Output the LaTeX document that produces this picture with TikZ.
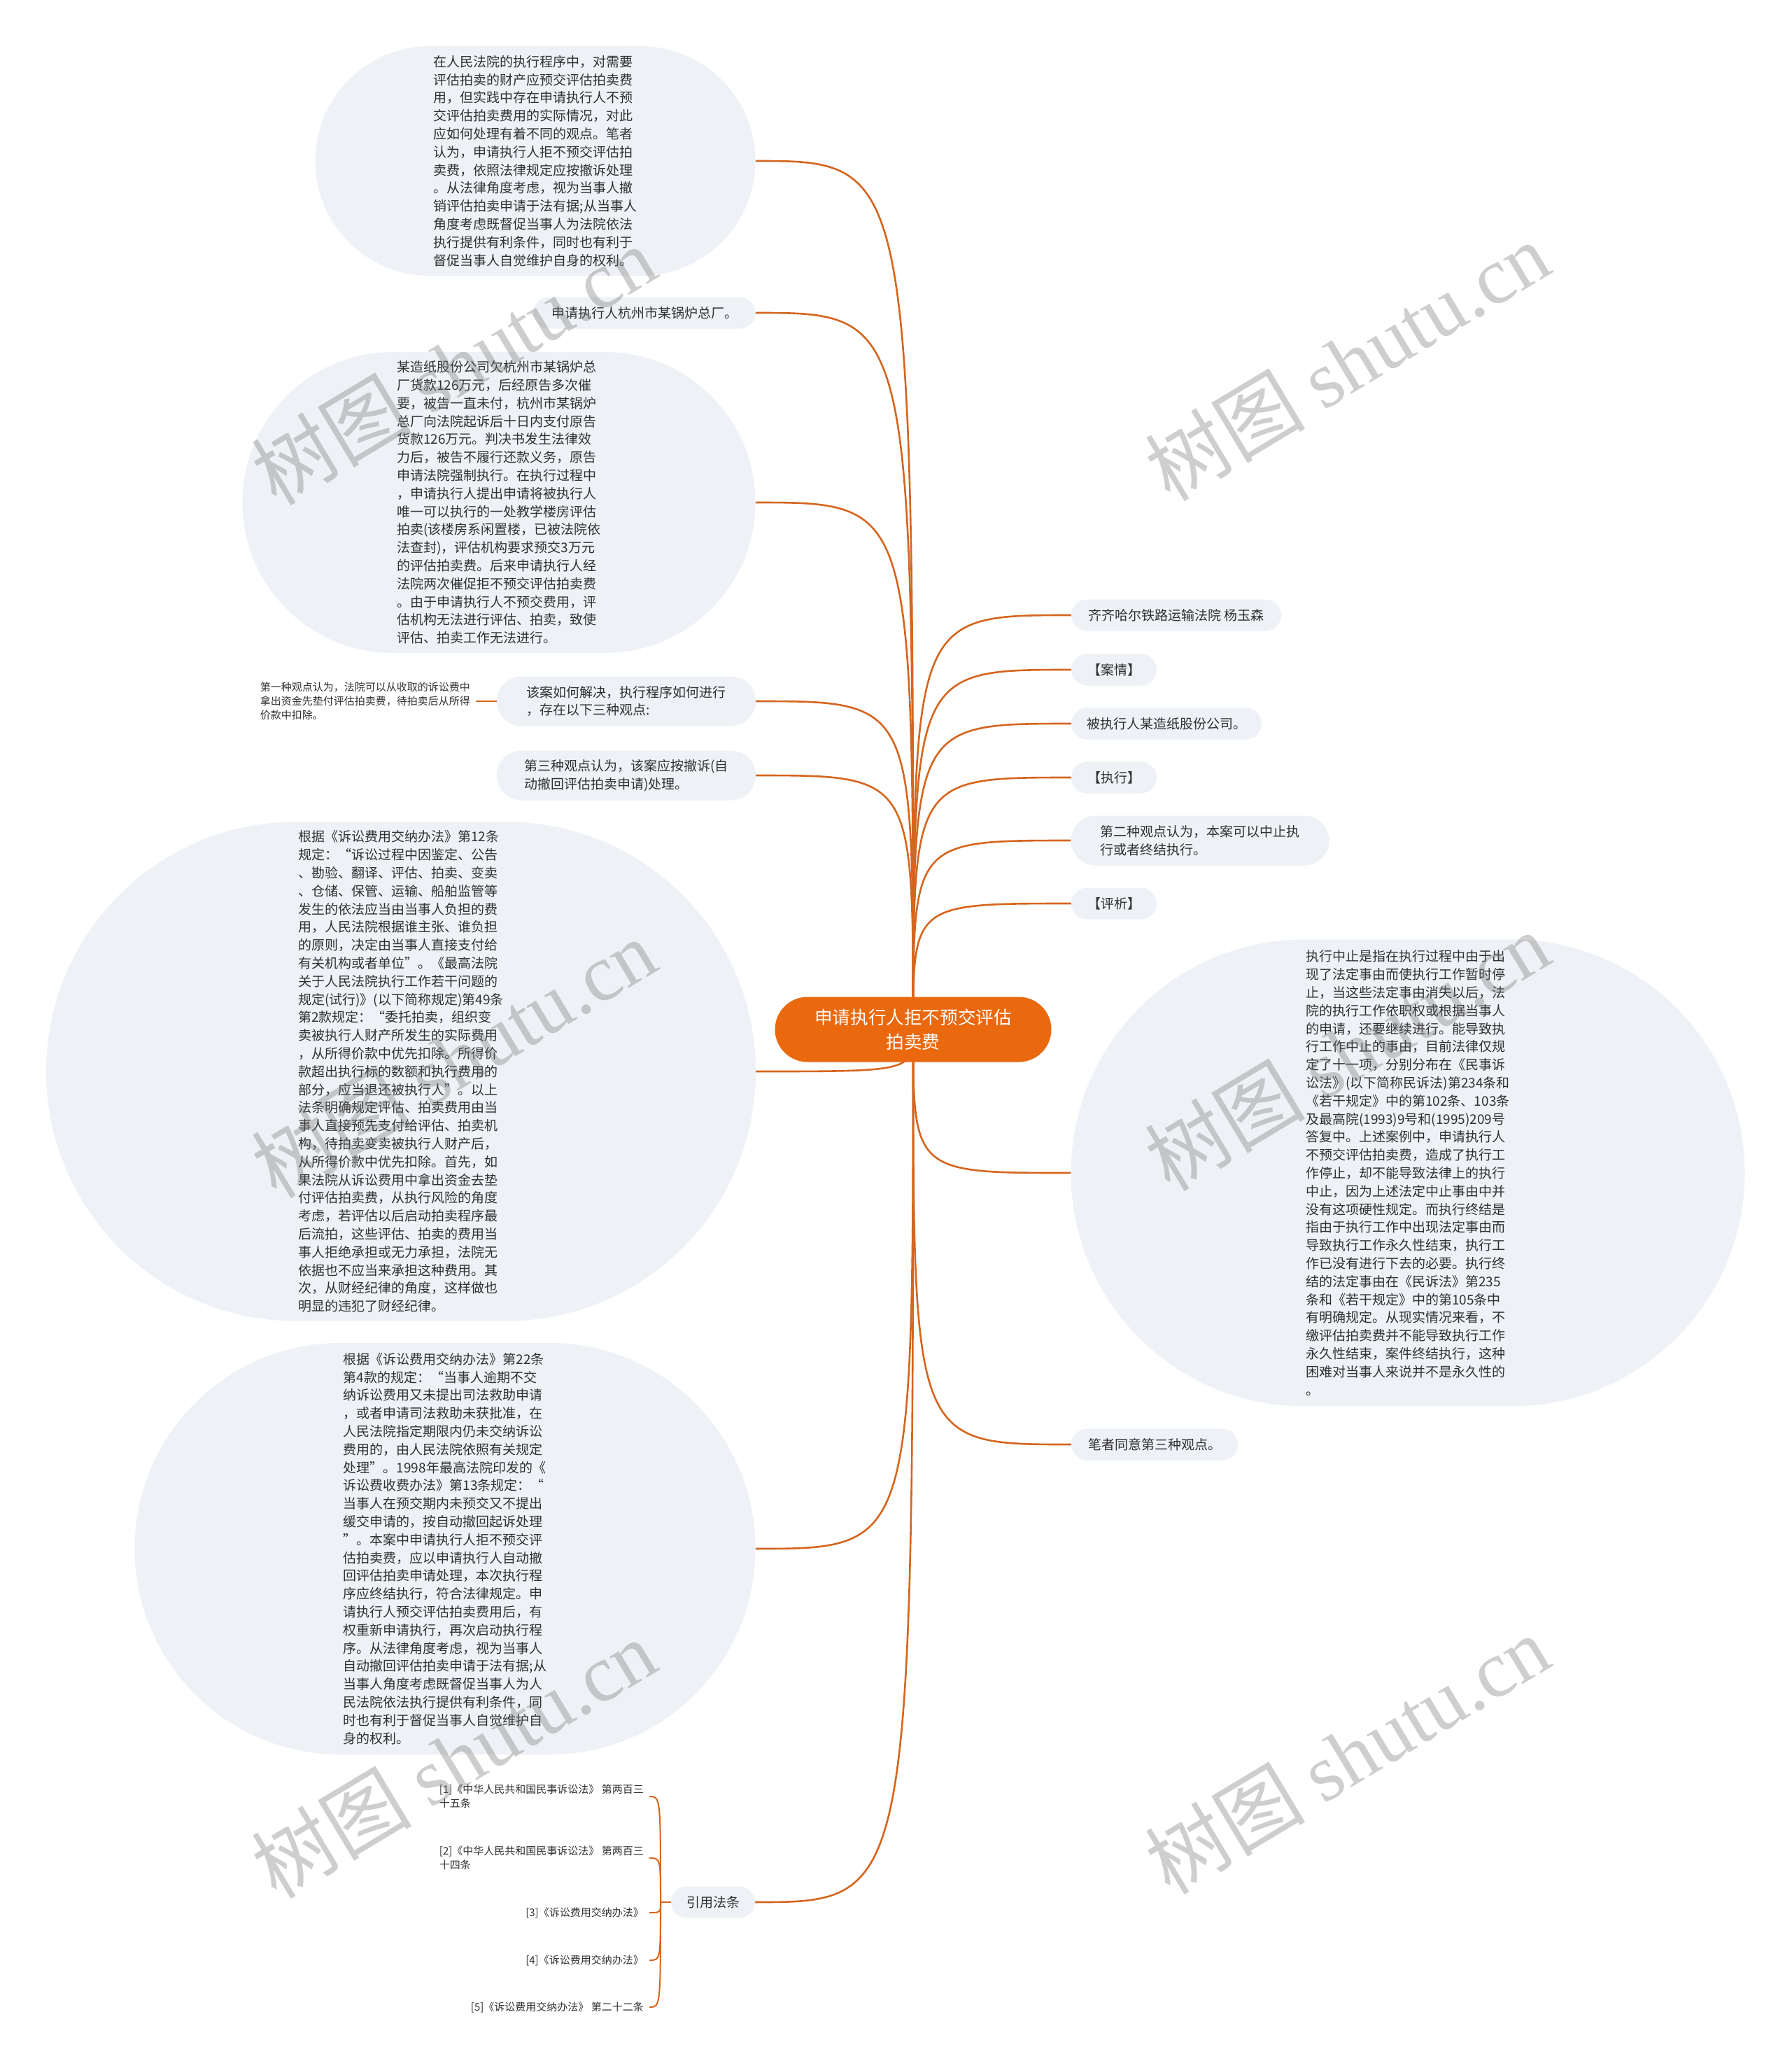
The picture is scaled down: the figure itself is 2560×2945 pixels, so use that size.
\documentclass[tikz,border=0pt]{standalone}
\usepackage{fontspec}
\setmainfont{Noto Sans CJK SC}
\newfontfamily\wmlatin{Liberation Serif}
\usetikzlibrary{shapes.misc}
\usetikzlibrary{backgrounds}
\definecolor{rootfill}{RGB}{234,104,14}
\definecolor{linkcol}{RGB}{214,101,30}
\definecolor{bubblefill}{RGB}{238,241,245}
\definecolor{inktext}{RGB}{48,48,48}
\tikzset{
  bubble/.style={rounded rectangle, fill=bubblefill, text=inktext, inner xsep=0pt, inner ysep=0pt, align=left, font=\fontsize{19pt}{25.8pt}\selectfont},
  leaf/.style={bubble, minimum height=45pt},
  leaftwo/.style={bubble, minimum height=71pt},
  smalltext/.style={text=inktext, align=left, inner xsep=8pt, inner ysep=2pt, font=\fontsize{15pt}{20pt}\selectfont},
  link/.style={draw=linkcol, line width=2.6pt, to path={.. controls (\tikztostart |- \tikztotarget) and (\tikztostart |- \tikztotarget) .. (\tikztotarget)}},
  watermark/.style={rotate=31, text=black!55, opacity=0.35, font=\fontsize{115pt}{115pt}\selectfont}
}
\begin{document}
\begin{tikzpicture}[x=1pt,y=-1pt]
\useasboundingbox (0,0) rectangle (2560,2945);

\node[rounded rectangle, fill=rootfill, text=white, minimum width=395pt, minimum height=93pt, inner xsep=0pt, align=center, font=\fontsize{25.6pt}{35pt}\selectfont] (root) at (1305,1471) {申请执行人拒不预交评估\\拍卖费};

\node[leaf, minimum width=300pt] (court) at (1681,879) {齐齐哈尔铁路运输法院 杨玉森};
\node[leaf, minimum width=122pt] (facts) at (1592,957) {【案情】};
\node[leaf, minimum width=272pt] (debtor) at (1667,1034) {被执行人某造纸股份公司。};
\node[leaf, minimum width=122pt] (enforce) at (1592,1111) {【执行】};
\node[leaftwo, minimum width=369pt] (viewtwo) at (1715,1201) {第二种观点认为，本案可以中止执\\行或者终结执行。};
\node[leaf, minimum width=122pt] (analysis) at (1592,1291) {【评析】};
\node[bubble, minimum width=963pt, minimum height=667pt] (suspend) at (2012,1676) {执行中止是指在执行过程中由于出\\现了法定事由而使执行工作暂时停\\止，当这些法定事由消失以后，法\\院的执行工作依职权或根据当事人\\的申请，还要继续进行。能导致执\\行工作中止的事由，目前法律仅规\\定了十一项，分别分布在《民事诉\\讼法》(以下简称民诉法)第234条和\\《若干规定》中的第102条、103条\\及最高院(1993)9号和(1995)209号\\答复中。上述案例中，申请执行人\\不预交评估拍卖费，造成了执行工\\作停止，却不能导致法律上的执行\\中止，因为上述法定中止事由中并\\没有这项硬性规定。而执行终结是\\指由于执行工作中出现法定事由而\\导致执行工作永久性结束，执行工\\作已没有进行下去的必要。执行终\\结的法定事由在《民诉法》第235\\条和《若干规定》中的第105条中\\有明确规定。从现实情况来看，不\\缴评估拍卖费并不能导致执行工作\\永久性结束，案件终结执行，这种\\困难对当事人来说并不是永久性的\\。};
\node[leaf, minimum width=238pt] (agree) at (1650,2064) {笔者同意第三种观点。};

\node[bubble, minimum width=629pt, minimum height=328pt] (intro) at (765,230) {在人民法院的执行程序中，对需要\\评估拍卖的财产应预交评估拍卖费\\用，但实践中存在申请执行人不预\\交评估拍卖费用的实际情况，对此\\应如何处理有着不同的观点。笔者\\认为，申请执行人拒不预交评估拍\\卖费，依照法律规定应按撤诉处理\\。从法律角度考虑，视为当事人撤\\销评估拍卖申请于法有据;从当事人\\角度考虑既督促当事人为法院依法\\执行提供有利条件，同时也有利于\\督促当事人自觉维护自身的权利。};
\node[leaf, minimum width=317pt] (creditor) at (921,447) {申请执行人杭州市某锅炉总厂。};
\node[bubble, minimum width=733pt, minimum height=430pt] (case) at (713,718) {某造纸股份公司欠杭州市某锅炉总\\厂货款126万元，后经原告多次催\\要，被告一直未付，杭州市某锅炉\\总厂向法院起诉后十日内支付原告\\货款126万元。判决书发生法律效\\力后，被告不履行还款义务，原告\\申请法院强制执行。在执行过程中\\，申请执行人提出申请将被执行人\\唯一可以执行的一处教学楼房评估\\拍卖(该楼房系闲置楼，已被法院依\\法查封)，评估机构要求预交3万元\\的评估拍卖费。后来申请执行人经\\法院两次催促拒不预交评估拍卖费\\。由于申请执行人不预交费用，评\\估机构无法进行评估、拍卖，致使\\评估、拍卖工作无法进行。};
\node[leaftwo, minimum width=370pt] (howto) at (895,1002) {该案如何解决，执行程序如何进行\\，存在以下三种观点:};
\node[smalltext, anchor=east] (viewone) at (680,1002) {第一种观点认为，法院可以从收取的诉讼费中\\拿出资金先垫付评估拍卖费，待拍卖后从所得\\价款中扣除。};
\node[leaftwo, minimum width=370pt] (viewthree) at (895,1108) {第三种观点认为，该案应按撤诉(自\\动撤回评估拍卖申请)处理。};
\node[bubble, minimum width=1014pt, minimum height=713pt] (feesrule) at (573,1531) {根据《诉讼费用交纳办法》第12条\\规定：“诉讼过程中因鉴定、公告\\、勘验、翻译、评估、拍卖、变卖\\、仓储、保管、运输、船舶监管等\\发生的依法应当由当事人负担的费\\用，人民法院根据谁主张、谁负担\\的原则，决定由当事人直接支付给\\有关机构或者单位”。《最高法院\\关于人民法院执行工作若干问题的\\规定(试行)》(以下简称规定)第49条\\第2款规定：“委托拍卖，组织变\\卖被执行人财产所发生的实际费用\\，从所得价款中优先扣除。所得价\\款超出执行标的数额和执行费用的\\部分，应当退还被执行人”。以上\\法条明确规定评估、拍卖费用由当\\事人直接预先支付给评估、拍卖机\\构，待拍卖变卖被执行人财产后，\\从所得价款中优先扣除。首先，如\\果法院从诉讼费用中拿出资金去垫\\付评估拍卖费，从执行风险的角度\\考虑，若评估以后启动拍卖程序最\\后流拍，这些评估、拍卖的费用当\\事人拒绝承担或无力承担，法院无\\依据也不应当来承担这种费用。其\\次，从财经纪律的角度，这样做也\\明显的违犯了财经纪律。};
\node[bubble, minimum width=887pt, minimum height=588pt] (withdraw) at (636,2213) {根据《诉讼费用交纳办法》第22条\\第4款的规定：“当事人逾期不交\\纳诉讼费用又未提出司法救助申请\\，或者申请司法救助未获批准，在\\人民法院指定期限内仍未交纳诉讼\\费用的，由人民法院依照有关规定\\处理”。1998年最高法院印发的《\\诉讼费收费办法》第13条规定：“\\当事人在预交期内未预交又不提出\\缓交申请的，按自动撤回起诉处理\\”。本案中申请执行人拒不预交评\\估拍卖费，应以申请执行人自动撤\\回评估拍卖申请处理，本次执行程\\序应终结执行，符合法律规定。申\\请执行人预交评估拍卖费用后，有\\权重新申请执行，再次启动执行程\\序。从法律角度考虑，视为当事人\\自动撤回评估拍卖申请于法有据;从\\当事人角度考虑既督促当事人为人\\民法院依法执行提供有利条件，同\\时也有利于督促当事人自觉维护自\\身的权利。};
\node[leaf, minimum width=120pt] (cite) at (1019,2718) {引用法条};

\node[smalltext, anchor=east] (law1) at (928,2567) {[1]《中华人民共和国民事诉讼法》 第两百三\\十五条};
\node[smalltext, anchor=east] (law2) at (928,2655) {[2]《中华人民共和国民事诉讼法》 第两百三\\十四条};
\node[smalltext, anchor=east] (law3) at (928,2733) {[3]《诉讼费用交纳办法》};
\node[smalltext, anchor=east] (law4) at (928,2801) {[4]《诉讼费用交纳办法》};
\node[smalltext, anchor=east] (law5) at (928,2868) {[5]《诉讼费用交纳办法》 第二十二条};
\coordinate (citejoint) at (944,2718);

\begin{pgfonlayer}{background}
\fill[white] (0,0) rectangle (2560,2945);
\foreach \leafname in {court,facts,debtor,enforce,viewtwo,analysis,suspend,agree}
  \draw[link] (root.center) to (\leafname.west);
\foreach \leafname in {intro,creditor,case,howto,viewthree,feesrule,withdraw,cite}
  \draw[link] (root.center) to (\leafname.east);
\draw[link] (howto.west) -- (viewone.east);
\draw[link, line width=2pt] (cite.west) -- (citejoint);
\foreach \lawname in {law1,law2,law3,law4,law5}
  \draw[link, line width=2pt] (citejoint) to (\lawname.east);
\end{pgfonlayer}

\foreach \wx/\wy in {648/522, 1925/516, 648/1512, 1925/1502, 648/2513, 1925/2507}
  \node[watermark] (mark-\wx-\wy) at (\wx,\wy) {树图 {\wmlatin shutu.cn}};
\end{tikzpicture}
\end{document}
